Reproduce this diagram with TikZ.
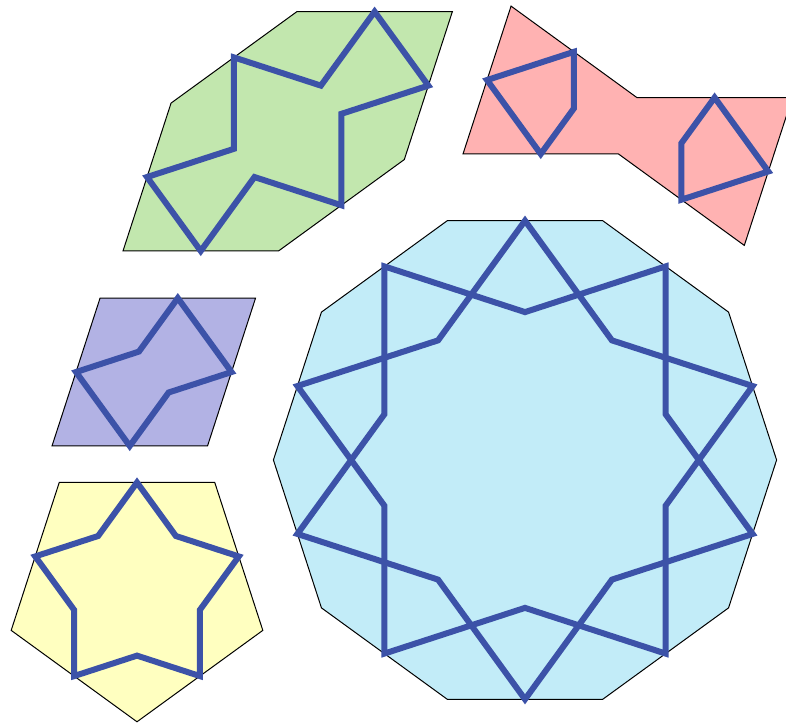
\documentclass[tikz,border=0pt]{standalone}
\usepackage{xcolor}
\usepackage{tikz}
\definecolor{GirihGreen}{HTML}{C2E7AE}
\definecolor{GirihRose}{HTML}{FFB2B2}
\definecolor{GirihLilac}{HTML}{B2B2E4}
\definecolor{GirihLemon}{HTML}{FFFFC0}
\definecolor{GirihSky}{HTML}{C2ECF8}
\definecolor{GirihBlue}{HTML}{3C52A8}

\begin{document}
\begin{tikzpicture}[x=1pt,y=1pt,
    tileedge/.style={draw=black,line width=1pt},
    girihline/.style={draw=GirihBlue,line width=6pt,line join=miter}]
  \useasboundingbox (0,0) rectangle (786,727);
  \clip (0,0) rectangle (786,727);

  % Elongated hexagon.
  \begin{scope}[shift={(123,476)},scale=155.5]
    \filldraw[tileedge,fill=GirihGreen] (0,0) -- (1,0) -- (1.809,0.588)
      -- (2.118,1.539) -- (1.118,1.539) -- (0.309,0.951) -- cycle;
    \draw[girihline] (0.5,0) -- (0.8455,0.4755) -- (1.4045,0.294)
      -- (1.4045,0.882) -- (1.9635,1.0635) -- (1.618,1.539)
      -- (1.2725,1.0635) -- (0.7135,1.245) -- (0.7135,0.657)
      -- (0.1545,0.4755) -- cycle;
  \end{scope}

  % Bowtie.
  \begin{scope}[shift={(463,573)},scale=155.5]
    \filldraw[tileedge,fill=GirihRose] (0,0) -- (0.309,0.951) -- (1.118,0.363)
      -- (2.118,0.363) -- (1.809,-0.588) -- (1,0) -- cycle;
    \draw[girihline] (0.1545,0.4755) -- (0.7135,0.657) -- (0.7135,0.2937)
      -- (0.5,0) -- cycle;
    \draw[girihline] (1.618,0.363) -- (1.9635,-0.1125) -- (1.4045,-0.294)
      -- (1.4045,0.0693) -- cycle;
  \end{scope}

  % Rhombus.
  \begin{scope}[shift={(52,281)},scale=155.5]
    \filldraw[tileedge,fill=GirihLilac] (0,0) -- (1,0) -- (1.309,0.951)
      -- (0.309,0.951) -- cycle;
    \draw[girihline] (0.5,0) -- (0.1545,0.4755) -- (0.559,0.607)
      -- (0.809,0.951) -- (1.1545,0.4755) -- (0.75,0.344) -- cycle;
  \end{scope}

  % Pentagon.
  \begin{scope}[shift={(137,137.5)},scale=155.5]
    \filldraw[tileedge,fill=GirihLemon] (-90:0.8507)
      \foreach \k in {1,...,4} { -- (-90+72*\k:0.8507) } -- cycle;
    \draw[girihline] (18:0.6882)
      \foreach \k in {0,...,4} { -- (54+72*\k:0.4253) -- (90+72*\k:0.6882) }
      -- cycle;
  \end{scope}

  % Decagon.
  \begin{scope}[shift={(525,267)},scale=155.5]
    \filldraw[tileedge,fill=GirihSky] (0:1.618)
      \foreach \k in {1,...,9} { -- (36*\k:1.618) } -- cycle;
    \draw[girihline] (18:1.539)
      \foreach \k in {0,...,4} { -- (54+72*\k:0.951) -- (90+72*\k:1.539) }
      -- cycle;
    \draw[girihline] (54:1.539)
      \foreach \k in {0,...,4} { -- (90+72*\k:0.951) -- (126+72*\k:1.539) }
      -- cycle;
  \end{scope}
\end{tikzpicture}
\end{document}
